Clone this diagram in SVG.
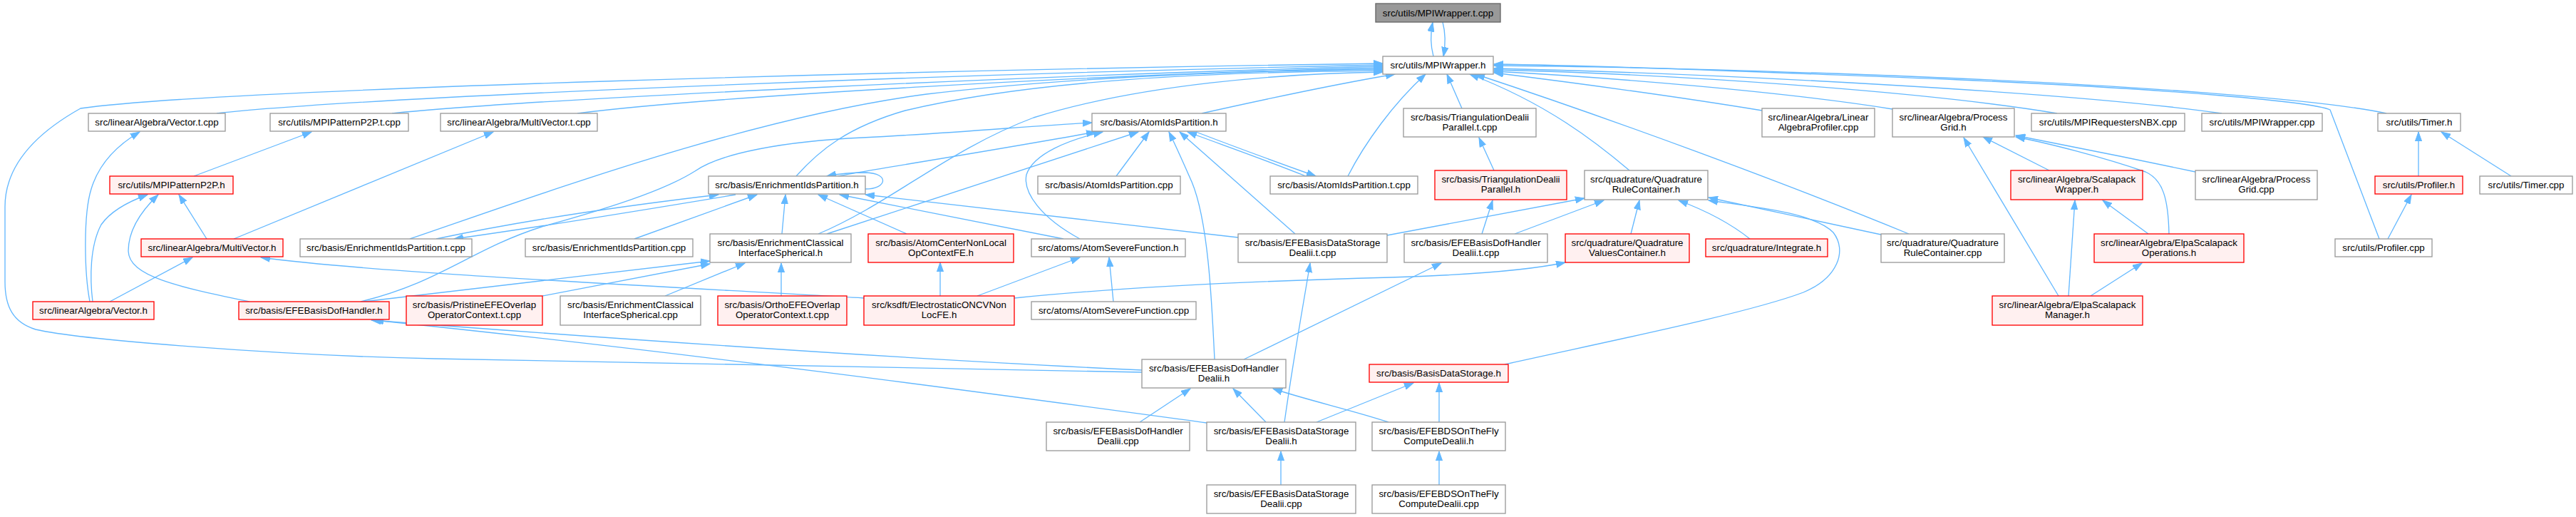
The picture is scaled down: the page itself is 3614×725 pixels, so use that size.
<svg xmlns="http://www.w3.org/2000/svg" width="3614" height="725" viewBox="0 0 3614 725">
<style>
.nd rect{fill:#ffffff;stroke:#999999;stroke-width:1.33}
.rd rect{fill:#fff0f0;stroke:#ff0000;stroke-width:1.33}
.rt rect{fill:#999999;stroke:#666666;stroke-width:1.33}
text{font-family:"Liberation Sans",Arial,Helvetica,sans-serif;font-size:13.33px;text-anchor:middle;fill:#000000}
#edges path{fill:none;stroke:#63b8ff;stroke-width:1.33;marker-end:url(#a)}
</style>
<defs>
<marker id="a" markerWidth="14" markerHeight="10" refX="13" refY="5" orient="auto" markerUnits="userSpaceOnUse"><path d="M0,0.4 L13,5 L0,9.6 z" fill="#63b8ff" stroke="#63b8ff" stroke-width="1"/></marker>
</defs>
<rect width="3614" height="725" fill="#ffffff"/>
<g id="edges">
<path d="M2011,79 C2007,64 2007,46 2010,31.5"/>
<path d="M2024,31 C2028,46 2028,63 2025,79"/>
<path d="M1602,522 C1350,519 1000,510 610,503 C380,498 110,476 50,462 C18,452 7,430 7,395 L7,290 C7,235 45,190 113,152 C300,125 1300,98 1940,89"/>
<path d="M304,159 C500,137 1300,104 1940,91"/>
<path d="M550,159 C750,138 1500,104 1940,93"/>
<path d="M810,159 C1000,135 1550,104 1940,95"/>
<path d="M575,335 C760,272 1050,165 1300,132 C1500,108 1750,99 1940,97"/>
<path d="M1117,247 C1150,210 1190,178 1270,155 C1450,112 1700,101 1940,99"/>
<path d="M1148,328 C1250,285 1330,210 1450,165 C1600,118 1800,103 1940,101"/>
<path d="M1686,159 C1780,138 1880,117 1957,104"/>
<path d="M1891,247 C1915,200 1955,145 2000,104"/>
<path d="M2051,152 L2030,104"/>
<path d="M2286,239 C2240,200 2170,145 2062,104"/>
<path d="M2678,328 C2500,255 2270,170 2070,104"/>
<path d="M2472,155 C2350,135 2200,115 2096,102"/>
<path d="M2655,153 C2500,128 2250,108 2096,100"/>
<path d="M2886,159 C2700,128 2350,104 2096,98"/>
<path d="M3117,159 C2900,128 2400,103 2096,96"/>
<path d="M3348,159 C3260,140 3000,120 2700,108 C2450,98 2250,93 2096,92"/>
<path d="M3338,335 L3269,154 C3245,143 3050,125 2750,112 C2450,100 2250,92 2096,90"/>
<path d="M328,335 L692,185"/>
<path d="M126,423 C118,380 117,300 128,265 C138,232 162,205 196,185"/>
<path d="M130,423 C126,390 126,345 142,315 C156,295 182,282 207,273"/>
<path d="M154,423 L270,361"/>
<path d="M350,423 C250,402 181,388 180,352 C180,322 198,296 222,273"/>
<path d="M290,335 L251,273"/>
<path d="M272,247 L437,185"/>
<path d="M1212,418 C900,400 520,382 366,361"/>
<path d="M1032,273 C900,295 760,318 637,335"/>
<path d="M612,335 C740,308 880,288 1008,273"/>
<path d="M506,423 C620,395 660,350 760,318 C880,285 940,262 975,240 C1010,215 1100,198 1210,193 C1350,186 1450,176 1532,172"/>
<path d="M510,423 L996,366"/>
<path d="M761,415 L996,370"/>
<path d="M933,415 L1045,369"/>
<path d="M1096,415 L1096,369"/>
<path d="M1097,328 L1102,273"/>
<path d="M1160,328 L1597,185"/>
<path d="M890,335 L1062,273"/>
<path d="M1272,328 L1148,273"/>
<path d="M1492,335 L1178,273"/>
<path d="M1737,333 L1214,273"/>
<path d="M1176,247 C1210,240 1400,210 1537,185"/>
<path d="M1214,265 C1245,265 1248,243 1215,242 C1195,242 1175,244 1160,247"/>
<path d="M1566,247 L1612,185"/>
<path d="M1515,335 C1460,305 1435,270 1440,245 C1450,215 1500,196 1547,185"/>
<path d="M1704,504 C1700,420 1695,310 1672,255 C1660,228 1650,205 1640,185"/>
<path d="M1817,328 L1655,185"/>
<path d="M1832,247 C1780,226 1720,205 1666,185"/>
<path d="M1678,185 C1730,205 1790,227 1846,247"/>
<path d="M2096,239 L2075,193"/>
<path d="M2079,328 L2094,281"/>
<path d="M1946,330 L2223,278"/>
<path d="M2125,328 L2250,281"/>
<path d="M2288,328 L2300,281"/>
<path d="M2455,335 C2430,315 2395,296 2355,281"/>
<path d="M2639,329 L2397,277"/>
<path d="M2111,511 C2250,480 2450,440 2530,410 C2578,390 2592,352 2572,326 C2545,298 2460,290 2397,281"/>
<path d="M1423,418 C1600,400 1800,393 1950,389 C2080,385 2150,378 2196,368"/>
<path d="M1562,423 L1556,361"/>
<path d="M1371,415 L1515,361"/>
<path d="M1319,415 L1319,368"/>
<path d="M1602,519 C1300,505 900,478 521,449"/>
<path d="M1693,593 C1450,560 1000,498 525,449"/>
<path d="M1599,592 L1670,545"/>
<path d="M1776,592 L1730,545"/>
<path d="M1948,592 C1900,576 1830,560 1786,545"/>
<path d="M1745,504 L2022,369"/>
<path d="M1802,592 C1815,500 1828,430 1838,369"/>
<path d="M1847,592 L1983,537"/>
<path d="M2019,592 L2019,537"/>
<path d="M2019,680 L2019,633"/>
<path d="M1797,680 L1797,633"/>
<path d="M2875,239 L2782,192"/>
<path d="M2888,415 L2755,193"/>
<path d="M3043,328 C3042,280 3035,252 3010,241 C2950,220 2870,200 2828,192"/>
<path d="M3080,241 C3000,224 2900,204 2828,190"/>
<path d="M2902,415 L2911,281"/>
<path d="M3014,328 L2950,281"/>
<path d="M2933,415 L3005,369"/>
<path d="M3393,247 L3393,185"/>
<path d="M3523,247 L3425,185"/>
<path d="M3350,335 L3383,273"/>
</g>
<g id="n_root" class="rt"><rect x="1930" y="5" width="175" height="26"/><text x="2017.5" y="22.5">src/utils/MPIWrapper.t.cpp</text></g>
<g id="n_mpiw_h" class="nd"><rect x="1940" y="79" width="155" height="25"/><text x="2017.5" y="96">src/utils/MPIWrapper.h</text></g>
<g id="n_vec_tcpp" class="nd"><rect x="124" y="159" width="192" height="25"/><text x="220" y="176">src/linearAlgebra/Vector.t.cpp</text></g>
<g id="n_p2p_tcpp" class="nd"><rect x="379" y="159" width="194" height="25"/><text x="476" y="176">src/utils/MPIPatternP2P.t.cpp</text></g>
<g id="n_mv_tcpp" class="nd"><rect x="618" y="159" width="220" height="25"/><text x="728" y="176">src/linearAlgebra/MultiVector.t.cpp</text></g>
<g id="n_aip_h" class="nd"><rect x="1532" y="159" width="188" height="25"/><text x="1626" y="176">src/basis/AtomIdsPartition.h</text></g>
<g id="n_tdp_tcpp" class="nd"><rect x="1969" y="152" width="186" height="40"/><text x="2062" y="168.5">src/basis/TriangulationDealii</text><text x="2062" y="183">Parallel.t.cpp</text></g>
<g id="n_lap_cpp" class="nd"><rect x="2472" y="152" width="158" height="40"/><text x="2551" y="168.5">src/linearAlgebra/Linear</text><text x="2551" y="183">AlgebraProfiler.cpp</text></g>
<g id="n_pg_h" class="nd"><rect x="2655" y="152" width="171" height="40"/><text x="2740.5" y="168.5">src/linearAlgebra/Process</text><text x="2740.5" y="183">Grid.h</text></g>
<g id="n_nbx_cpp" class="nd"><rect x="2850" y="159" width="215" height="25"/><text x="2957.5" y="176">src/utils/MPIRequestersNBX.cpp</text></g>
<g id="n_mpiw_cpp" class="nd"><rect x="3089" y="159" width="169" height="25"/><text x="3173.5" y="176">src/utils/MPIWrapper.cpp</text></g>
<g id="n_timer_h" class="nd"><rect x="3336" y="159" width="116" height="25"/><text x="3394" y="176">src/utils/Timer.h</text></g>
<g id="n_p2p_h" class="rd"><rect x="154" y="247" width="173" height="25"/><text x="240.5" y="264">src/utils/MPIPatternP2P.h</text></g>
<g id="n_eip_h" class="nd"><rect x="994" y="247" width="220" height="25"/><text x="1104" y="264">src/basis/EnrichmentIdsPartition.h</text></g>
<g id="n_aip_cpp" class="nd"><rect x="1456" y="247" width="200" height="25"/><text x="1556" y="264">src/basis/AtomIdsPartition.cpp</text></g>
<g id="n_aip_tcpp" class="nd"><rect x="1782" y="247" width="207" height="25"/><text x="1885.5" y="264">src/basis/AtomIdsPartition.t.cpp</text></g>
<g id="n_tdp_h" class="rd"><rect x="2013" y="239" width="185" height="41"/><text x="2105.5" y="255.5">src/basis/TriangulationDealii</text><text x="2105.5" y="270">Parallel.h</text></g>
<g id="n_qrc_h" class="nd"><rect x="2223" y="239" width="173" height="41"/><text x="2309.5" y="255.5">src/quadrature/Quadrature</text><text x="2309.5" y="270">RuleContainer.h</text></g>
<g id="n_slw_h" class="rd"><rect x="2821" y="239" width="185" height="41"/><text x="2913.5" y="255.5">src/linearAlgebra/Scalapack</text><text x="2913.5" y="270">Wrapper.h</text></g>
<g id="n_pg_cpp" class="nd"><rect x="3080" y="239" width="171" height="41"/><text x="3165.5" y="255.5">src/linearAlgebra/Process</text><text x="3165.5" y="270">Grid.cpp</text></g>
<g id="n_prof_h" class="rd"><rect x="3332" y="247" width="123" height="25"/><text x="3393.5" y="264">src/utils/Profiler.h</text></g>
<g id="n_timer_cpp" class="nd"><rect x="3479" y="247" width="130" height="25"/><text x="3544" y="264">src/utils/Timer.cpp</text></g>
<g id="n_mv_h" class="rd"><rect x="198" y="335" width="199" height="25"/><text x="297.5" y="352">src/linearAlgebra/MultiVector.h</text></g>
<g id="n_eip_tcpp" class="nd"><rect x="421" y="335" width="241" height="25"/><text x="541.5" y="352">src/basis/EnrichmentIdsPartition.t.cpp</text></g>
<g id="n_eip_cpp" class="nd"><rect x="737" y="335" width="235" height="25"/><text x="854.5" y="352">src/basis/EnrichmentIdsPartition.cpp</text></g>
<g id="n_ecis_h" class="nd"><rect x="996" y="328" width="198" height="40"/><text x="1095" y="344.5">src/basis/EnrichmentClassical</text><text x="1095" y="359">InterfaceSpherical.h</text></g>
<g id="n_acnl_h" class="rd"><rect x="1218" y="328" width="204" height="40"/><text x="1320" y="344.5">src/basis/AtomCenterNonLocal</text><text x="1320" y="359">OpContextFE.h</text></g>
<g id="n_asf_h" class="nd"><rect x="1447" y="335" width="216" height="25"/><text x="1555" y="352">src/atoms/AtomSevereFunction.h</text></g>
<g id="n_efebds_tcpp" class="nd"><rect x="1737" y="328" width="209" height="40"/><text x="1841.5" y="344.5">src/basis/EFEBasisDataStorage</text><text x="1841.5" y="359">Dealii.t.cpp</text></g>
<g id="n_efebdh_tcpp" class="nd"><rect x="1970" y="328" width="201" height="40"/><text x="2070.5" y="344.5">src/basis/EFEBasisDofHandler</text><text x="2070.5" y="359">Dealii.t.cpp</text></g>
<g id="n_qvc_h" class="rd"><rect x="2196" y="328" width="174" height="40"/><text x="2283" y="344.5">src/quadrature/Quadrature</text><text x="2283" y="359">ValuesContainer.h</text></g>
<g id="n_integ_h" class="rd"><rect x="2393" y="335" width="171" height="25"/><text x="2478.5" y="352">src/quadrature/Integrate.h</text></g>
<g id="n_qrc_cpp" class="nd"><rect x="2639" y="328" width="173" height="40"/><text x="2725.5" y="344.5">src/quadrature/Quadrature</text><text x="2725.5" y="359">RuleContainer.cpp</text></g>
<g id="n_elpaops_h" class="rd"><rect x="2938" y="328" width="210" height="40"/><text x="3043" y="344.5">src/linearAlgebra/ElpaScalapack</text><text x="3043" y="359">Operations.h</text></g>
<g id="n_prof_cpp" class="nd"><rect x="3276" y="335" width="136" height="25"/><text x="3344" y="352">src/utils/Profiler.cpp</text></g>
<g id="n_vec_h" class="rd"><rect x="46" y="423" width="170" height="25"/><text x="131" y="440">src/linearAlgebra/Vector.h</text></g>
<g id="n_efebdh_h" class="rd"><rect x="335" y="423" width="211" height="25"/><text x="440.5" y="440">src/basis/EFEBasisDofHandler.h</text></g>
<g id="n_pristine" class="rd"><rect x="570" y="415" width="191" height="41"/><text x="665.5" y="431.5">src/basis/PristineEFEOverlap</text><text x="665.5" y="446">OperatorContext.t.cpp</text></g>
<g id="n_ecis_cpp" class="nd"><rect x="786" y="415" width="197" height="41"/><text x="884.5" y="431.5">src/basis/EnrichmentClassical</text><text x="884.5" y="446">InterfaceSpherical.cpp</text></g>
<g id="n_ortho" class="rd"><rect x="1007" y="415" width="181" height="41"/><text x="1097.5" y="431.5">src/basis/OrthoEFEOverlap</text><text x="1097.5" y="446">OperatorContext.t.cpp</text></g>
<g id="n_eoncv_h" class="rd"><rect x="1212" y="415" width="211" height="41"/><text x="1317.5" y="431.5">src/ksdft/ElectrostaticONCVNon</text><text x="1317.5" y="446">LocFE.h</text></g>
<g id="n_asf_cpp" class="nd"><rect x="1447" y="423" width="231" height="25"/><text x="1562.5" y="440">src/atoms/AtomSevereFunction.cpp</text></g>
<g id="n_elpamgr_h" class="rd"><rect x="2795" y="415" width="211" height="41"/><text x="2900.5" y="431.5">src/linearAlgebra/ElpaScalapack</text><text x="2900.5" y="446">Manager.h</text></g>
<g id="n_efebdhd_h" class="nd"><rect x="1602" y="504" width="202" height="40"/><text x="1703" y="520.5">src/basis/EFEBasisDofHandler</text><text x="1703" y="535">Dealii.h</text></g>
<g id="n_bds_h" class="rd"><rect x="1921" y="511" width="195" height="25"/><text x="2018.5" y="528">src/basis/BasisDataStorage.h</text></g>
<g id="n_efebdhd_cpp" class="nd"><rect x="1468" y="592" width="201" height="40"/><text x="1568.5" y="608.5">src/basis/EFEBasisDofHandler</text><text x="1568.5" y="623">Dealii.cpp</text></g>
<g id="n_efebdsd_h" class="nd"><rect x="1693" y="592" width="209" height="40"/><text x="1797.5" y="608.5">src/basis/EFEBasisDataStorage</text><text x="1797.5" y="623">Dealii.h</text></g>
<g id="n_otf_h" class="nd"><rect x="1925" y="592" width="187" height="40"/><text x="2018.5" y="608.5">src/basis/EFEBDSOnTheFly</text><text x="2018.5" y="623">ComputeDealii.h</text></g>
<g id="n_efebdsd_cpp" class="nd"><rect x="1693" y="680" width="209" height="40"/><text x="1797.5" y="696.5">src/basis/EFEBasisDataStorage</text><text x="1797.5" y="711">Dealii.cpp</text></g>
<g id="n_otf_cpp" class="nd"><rect x="1925" y="680" width="187" height="40"/><text x="2018.5" y="696.5">src/basis/EFEBDSOnTheFly</text><text x="2018.5" y="711">ComputeDealii.cpp</text></g>
</svg>
